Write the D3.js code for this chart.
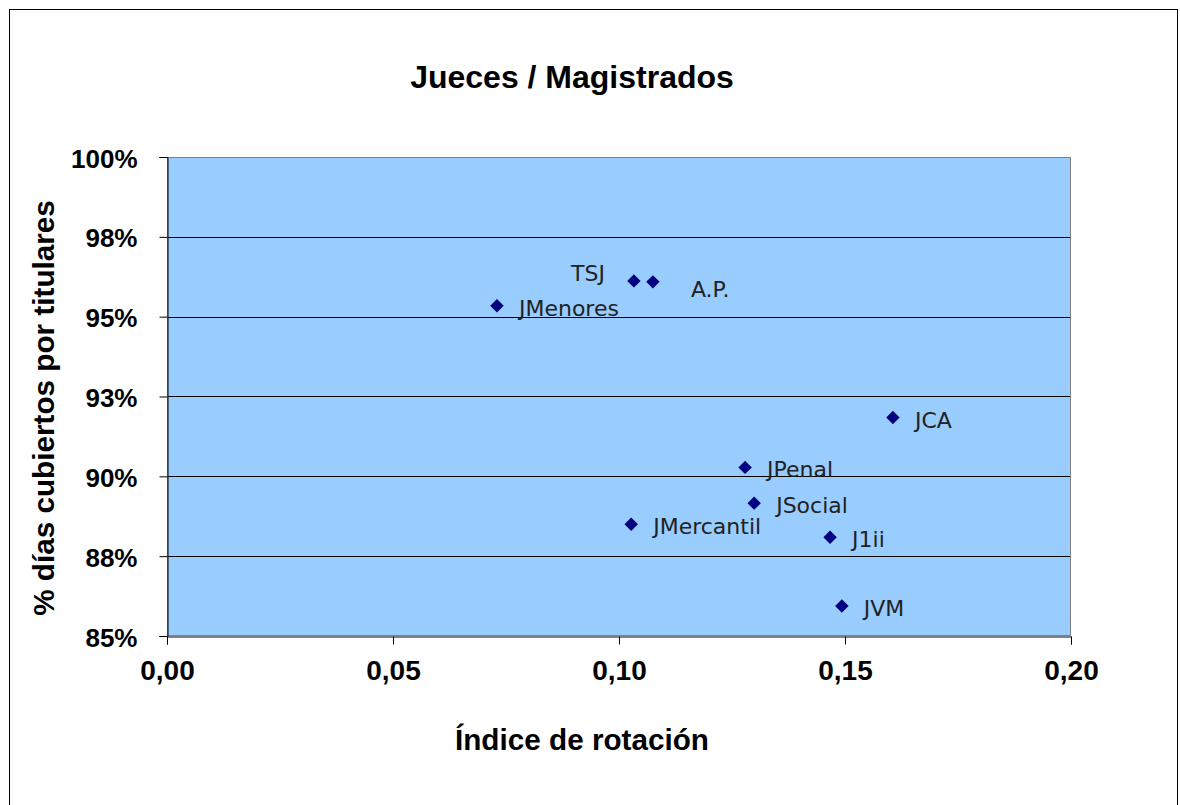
<!DOCTYPE html>
<html><head><meta charset="utf-8">
<script src="https://cdn.jsdelivr.net/npm/d3@7"></script>
<style>body{margin:0;background:#fff}svg{display:block}</style>
</head><body>
<script>
const names = ["TSJ","A.P.","JMenores","JCA","JPenal","JSocial","JMercantil","J1ii","JVM"];
const rotacion = [0.1033,0.1075,0.0730,0.1606,0.1279,0.1299,0.1027,0.1467,0.1493];
const cubiertos = [0.9612,0.9609,0.9534,0.9184,0.9028,0.8916,0.8850,0.8809,0.8594];
const xTicks = [0,0.05,0.10,0.15,0.20];
const xTickLabels = ["0,00","0,05","0,10","0,15","0,20"];
const yTicks = [0.85,0.875,0.90,0.925,0.95,0.975,1.0];
const yTickLabels = ["85%","88%","90%","93%","95%","98%","100%"];

// label placement styles (offsets in px)
const labelStyle = {
  "TSJ": {dx:-29, dy:0, anchor:"end"},
  "A.P.": {dx:38, dy:15, anchor:"start"},
  "default": {dx:22, dy:10, anchor:"start"}
};

const W=1180,H=805;
const svg=d3.select("body").append("svg").attr("width",W).attr("height",H);
svg.append("rect").attr("x",9.5).attr("y",9.5).attr("width",1168).attr("height",900)
  .attr("fill","#fff").attr("stroke","#000").attr("stroke-width",1);

const m={l:167,r:1071,t:157,b:636};
const x=d3.scaleLinear().domain([0,0.2]).range([m.l,m.r]);
const y=d3.scaleLinear().domain([0.85,1.0]).range([m.b,m.t]);

svg.append("rect").attr("x",m.l).attr("y",m.t).attr("width",m.r-m.l).attr("height",m.b-m.t)
  .attr("fill","#99CCFF");

// gridlines
svg.append("g").selectAll("line").data(yTicks.slice(1,-1)).join("line")
  .attr("x1",m.l).attr("x2",m.r).attr("y1",d=>Math.round(y(d))+0.5).attr("y2",d=>Math.round(y(d))+0.5)
  .attr("stroke","#000").attr("stroke-width",1);

// plot border
svg.append("rect").attr("x",m.l+0.5).attr("y",m.t+0.5).attr("width",m.r-m.l-1).attr("height",m.b-m.t-1)
  .attr("fill","none").attr("stroke","#808080").attr("stroke-width",1);

const font="'Liberation Sans', Arial, sans-serif";

// axes
const yAxis=d3.axisLeft(y).tickValues(yTicks).tickSize(8).tickFormat((d,i)=>yTickLabels[i]).tickPadding(22);
const gy=svg.append("g").attr("transform",`translate(${m.l+0.5},0)`).call(yAxis);
gy.select(".domain").attr("stroke","#000");
gy.selectAll(".tick line").attr("stroke","#000");
gy.selectAll("text").attr("font-family",font).attr("font-weight","bold").attr("font-size","26px").attr("fill","#000").attr("dy","10px");

const xAxis=d3.axisBottom(x).tickValues(xTicks).tickSize(8).tickFormat((d,i)=>xTickLabels[i]);
const gx=svg.append("g").attr("transform",`translate(0,${m.b+0.5})`).call(xAxis);
gx.select(".domain").attr("stroke","#000");
gx.selectAll(".tick line").attr("stroke","#000");
gx.selectAll("text").attr("font-family",font).attr("font-weight","bold").attr("font-size","28px").attr("fill","#000")
  .attr("y",43).attr("dy",0);

// titles
svg.append("text").attr("x",572).attr("y",88).attr("text-anchor","middle")
  .attr("font-family",font).attr("font-weight","bold").attr("font-size","32px").text("Jueces / Magistrados");
svg.append("text").attr("x",582).attr("y",750).attr("text-anchor","middle")
  .attr("font-family",font).attr("font-weight","bold").attr("font-size","29.7px").text("Índice de rotación");
svg.append("text").attr("transform","translate(54,408) rotate(-90)").attr("text-anchor","middle")
  .attr("font-family",font).attr("font-weight","bold").attr("font-size","29.7px").text("% días cubiertos por titulares");

// points
const data=names.map((n,i)=>({n,x:rotacion[i],y:cubiertos[i]}));
const sym=d3.symbol().type(d3.symbolDiamond2).size(115);
svg.append("g").selectAll("path").data(data).join("path")
  .attr("transform",d=>`translate(${x(d.x)},${y(d.y)})`).attr("d",sym).attr("fill","#000080");

svg.append("g").selectAll("text").data(data).join("text")
  .attr("x",d=>x(d.x)+(labelStyle[d.n]||labelStyle.default).dx)
  .attr("y",d=>y(d.y)+(labelStyle[d.n]||labelStyle.default).dy)
  .attr("text-anchor",d=>(labelStyle[d.n]||labelStyle.default).anchor)
  .attr("font-family","'DejaVu Sans', Verdana, sans-serif").attr("font-size","22px").attr("fill","#222")
  .text(d=>d.n);
</script>
</body></html>
